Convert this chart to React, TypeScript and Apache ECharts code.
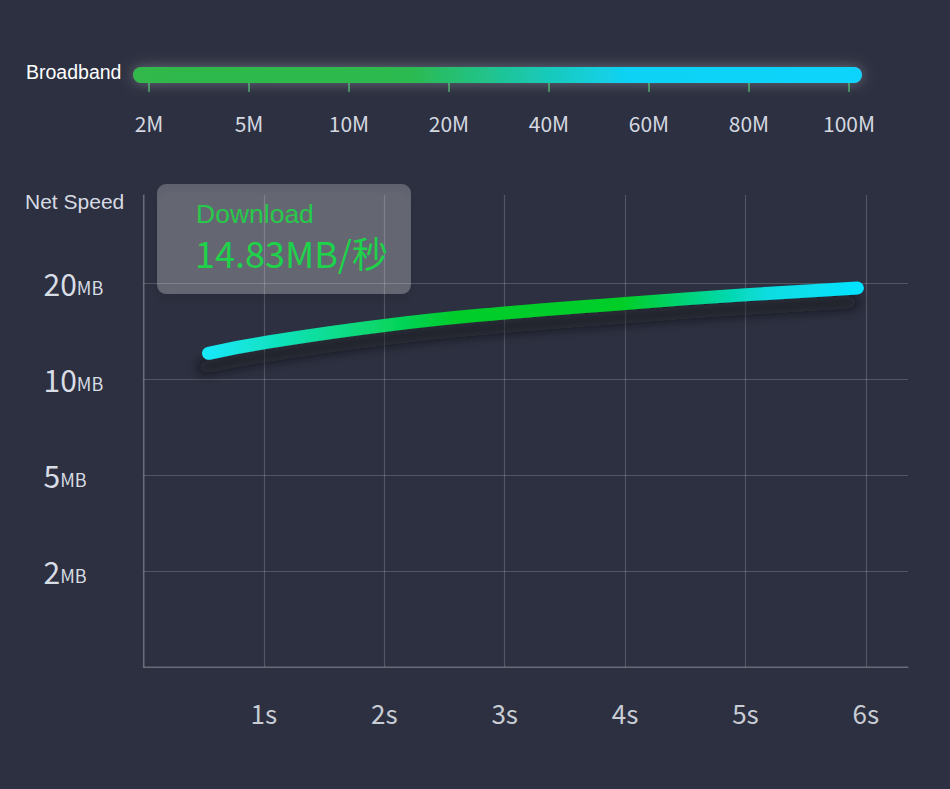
import React, { useEffect, useRef } from "react";
import * as echarts from "echarts";

// Broadband scale
const broadbandLabels = ["2M", "5M", "10M", "20M", "40M", "60M", "80M", "100M"];

// Net speed axis
const speedTickValues = [2, 5, 10, 20]; // MB, placed at levels 1..4
const speedUnit = "MB";
const timeTicks = [1, 2, 3, 4, 5, 6];

// Download curve (seconds, MB)
const timeValues = [0.54, 1, 2, 3, 4, 5, 5.93];
const speedValues = [12.7, 13.8, 15.6, 16.9, 17.9, 18.8, 19.5];

const tipTitle = "Download";
const tipValue = "14.83MB/秒";

function speedToLevel(mb: number): number {
  for (let i = 0; i < speedTickValues.length - 1; i++) {
    const a = speedTickValues[i];
    const b = speedTickValues[i + 1];
    if (mb <= b || i === speedTickValues.length - 2) {
      return i + 1 + (mb - a) / (b - a);
    }
  }
  return 1;
}

const BG = "#2c3040";
const GRID = "rgba(255,255,255,0.18)";
const CJK = "'Noto Sans CJK SC', 'Noto Sans', sans-serif";
const SANS = "'Liberation Sans', Arial, sans-serif";

export default function App() {
  const ref = useRef<HTMLDivElement>(null);
  useEffect(() => {
    document.body.style.margin = "0";
    const chart = echarts.init(ref.current!, null, { renderer: "svg" });
    const lineData = timeValues.map((t, i) => [t, speedToLevel(speedValues[i])]);
    chart.setOption({
      animation: false,
      backgroundColor: BG,
      grid: [
        { left: 143.5, right: 42, top: 195, bottom: 122 },
        { left: 149, right: 101, top: 40, height: 43 },
      ],
      xAxis: [
        {
          type: "value",
          gridIndex: 0,
          min: 0,
          max: 6.35,
          interval: 1,
          axisLine: { show: true, lineStyle: { color: GRID, width: 1.5 } },
          axisTick: { show: false },
          splitLine: { show: true, showMaxLine: false, lineStyle: { color: GRID, width: 1.2 } },
          axisLabel: {
            margin: 32,
            showMaxLabel: false,
            color: "#c8ccd4",
            fontSize: 26,
            fontFamily: CJK,
            formatter: (v: number) => (timeTicks.indexOf(v) >= 0 ? `${v}s` : ""),
          },
        },
        {
          type: "category",
          gridIndex: 1,
          data: broadbandLabels,
          boundaryGap: false,
          axisLine: { show: false },
          axisTick: { show: true, length: 9, lineStyle: { color: "#3fa866", width: 1.5 } },
          splitLine: { show: false },
          axisLabel: {
            margin: 29,
            color: "#d4d8e0",
            fontSize: 21,
            fontFamily: CJK,
          },
        },
      ],
      yAxis: [
        {
          type: "value",
          gridIndex: 0,
          min: 0,
          max: 4.92,
          interval: 1,
          axisLine: { show: true, lineStyle: { color: GRID, width: 1.5 } },
          axisTick: { show: false },
          splitLine: { show: true, showMaxLine: false, lineStyle: { color: GRID, width: 1.2 } },
          axisLabel: {
            align: "left",
            margin: 100,
            showMaxLabel: false,
            formatter: (v: number) => {
              const idx = Math.round(v) - 1;
              if (Math.abs(v - Math.round(v)) > 1e-6 || idx < 0 || idx >= speedTickValues.length) return "";
              return `{n|${speedTickValues[idx]}}{u|${speedUnit}}`;
            },
            rich: {
              n: { fontSize: 30, color: "#d8dce4", fontFamily: CJK },
              u: { fontSize: 18, color: "#d8dce4", fontFamily: CJK, padding: [7, 0, 0, 0] },
            },
          },
        },
        { type: "value", gridIndex: 1, show: false, min: 0, max: 1 },
      ],
      series: [
        {
          type: "line",
          xAxisIndex: 0,
          yAxisIndex: 0,
          data: lineData,
          smooth: true,
          symbol: "none",
          lineStyle: {
            width: 13,
            cap: "round",
            color: new echarts.graphic.LinearGradient(0, 0, 1, 0, [
              { offset: 0, color: "#16e8f8" },
              { offset: 0.2, color: "#0cdc8a" },
              { offset: 0.38, color: "#00cc2c" },
              { offset: 0.64, color: "#00ce28" },
              { offset: 0.86, color: "#08dce0" },
              { offset: 1, color: "#06e2ff" },
            ]),
            shadowColor: "rgba(10,12,20,0.6)",
            shadowBlur: 12,
            shadowOffsetX: -5,
            shadowOffsetY: 14,
          },
          z: 3,
        },
      ],
      graphic: [
        {
          type: "text",
          left: 26,
          top: 62,
          style: { text: "Broadband", fill: "#ffffff", font: `19.5px ${SANS}` },
        },
        {
          type: "rect",
          shape: { x: 133, y: 67, width: 729, height: 16, r: 8 },
          style: {
            fill: new echarts.graphic.LinearGradient(0, 0, 1, 0, [
              { offset: 0, color: "#30b84b" },
              { offset: 0.38, color: "#2cba4f" },
              { offset: 0.55, color: "#1ac8b0" },
              { offset: 0.68, color: "#10d2f5" },
              { offset: 1, color: "#10d4fc" },
            ]),
            shadowBlur: 14,
            shadowColor: "rgba(255,255,255,0.3)",
          },
          z: 5,
        },
        {
          type: "text",
          left: 25,
          top: 191,
          style: { text: "Net Speed", fill: "#d6dae2", font: `21px ${SANS}` },
        },
        {
          type: "rect",
          shape: { x: 157, y: 184, width: 254, height: 110, r: 9 },
          style: {
            fill: "rgba(255,255,255,0.24)",
            shadowBlur: 10,
            shadowOffsetY: 6,
            shadowColor: "rgba(0,0,0,0.35)",
          },
          z: 10,
        },
        {
          type: "text",
          left: 196,
          top: 200,
          style: { text: tipTitle, fill: "#27c94a", font: `26.5px ${SANS}` },
          z: 11,
        },
        {
          type: "text",
          left: 195,
          top: 234,
          style: { text: tipValue, fill: "#1ed24a", font: `36px ${CJK}` },
          z: 11,
        },
      ],
    });
    return () => chart.dispose();
  }, []);
  return (
    <div
      ref={ref}
      style={{ position: "fixed", left: 0, top: 0, width: 950, height: 789 }}
    />
  );
}
